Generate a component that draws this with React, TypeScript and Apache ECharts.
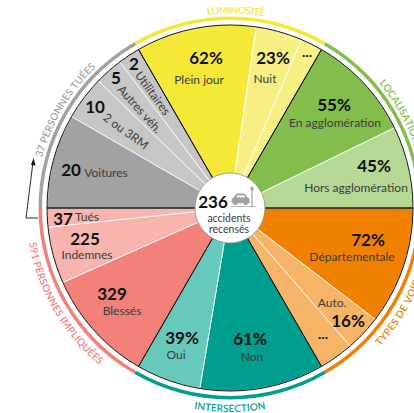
import React, { useEffect, useRef } from "react";
import * as echarts from "echarts";

const sliceNames = ["Plein jour", "Nuit", "Luminosité autre", "En agglomération", "Hors agglomération", "Départementale", "Auto.", "Voie autre", "Non", "Oui", "Blessés", "Indemnes", "Tués", "Voitures", "2 ou 3RM", "Autres véh.", "Utilitaires"];
// angular span of each slice (degrees, clockwise from the grey/yellow boundary)
const sliceSpans = [38.2, 14.8, 7, 34, 26, 37.5, 11.5, 11, 39.5, 20.5, 36, 18, 6, 30, 14, 9, 7];
const sliceColors = ["#F5E836", "#F8F084", "#F8F084", "#83BE4C", "#B5D894", "#F08100", "#F6B468", "#F6B468", "#009E8F", "#67C8BC", "#F28279", "#F8B5AF", "#F8B5AF", "#A2A2A2", "#C6C6C6", "#C6C6C6", "#C6C6C6"];

const groupNames = ["Luminosité", "Localisation", "Types de voie", "Intersection", "Personnes impliquées", "Personnes tuées"];
const groupSpans = [60, 60, 60, 60, 60, 60];
const groupColors = ["#F5E836", "#83BE4C", "#F08100", "#009E8F", "#F28279", "#A2A2A2"];

const CX = 230, CY = 208, R = 183;
const NUM = "bold 17px Lato, sans-serif";
const SUB = "12px Lato, sans-serif";
const RING_FONT = "600 10px Lato, sans-serif";
const DARK = "#111111", SUBC = "#3c3c3c";

const numbers: [string, number, number][] = [
  ["62%", 206, 57], ["23%", 273, 57], ["55%", 334, 104], ["45%", 374, 165], ["72%", 368, 239],
  ["16%", 348, 320], ["61%", 250, 338], ["39%", 182, 337], ["329", 112, 293], ["225", 85, 238],
  ["37", 63, 218], ["20", 71, 169], ["10", 95, 106], ["5", 116, 77], ["2", 134, 63],
];
const subs: [string, number, number][] = [
  ["Plein jour", 199, 79], ["Nuit", 265, 78], ["En agglomération", 335, 122], ["Hors agglomération", 356, 187],
  ["Départementale", 352, 256], ["Auto.", 332, 302], ["Non", 252, 356], ["Oui", 176, 354],
  ["Blessés", 122, 310], ["Indemnes", 87, 254], ["Tués", 87, 216], ["Voitures", 106, 172],
];
const rotated: [string, number, number, number][] = [
  ["2 ou 3RM", 126, 131, -36], ["Autres véh.", 140, 109, -48], ["Utilitaires", 153, 93, -54],
];
const dots: [number, number][] = [[307, 58], [323, 340]];

// text, centre angle (clockwise from top), angular span, colour
const ringLabels: [string, number, number, string][] = [
  ["LUMINOSITÉ", 1.7, 16.7, "#F5E836"],
  ["LOCALISATION", 60.5, 21, "#83BE4C"],
  ["TYPES DE VOIE", 122, 21.5, "#F08100"],
  ["INTERSECTION", 180, 20.3, "#009E8F"],
  ["591 PERSONNES IMPLIQUÉES", 240, 40.5, "#F28279"],
  ["37 PERSONNES TUÉES", 300.7, 31.4, "#A2A2A2"],
];

const CAR = "M1 26 L1 21 Q2 19 4 18 L8 12 Q9 11 11 11 L21 11 Q23 11 25 14 L27 17 Q31 18 31 22 L31 27 L28 27 A3.5 3.5 0 0 1 21 27 L11 27 A3.5 3.5 0 0 1 4 27 L1 27 Z M10 14 L9 17 L24 17 L22 14 Z M34 6 L36 6 L36 32 L34 32 Z M32.5 0 L37.5 0 L37.5 6 L32.5 6 Z M0 32 L41 32 L41 33.4 L0 33.4 Z";

function ringChars(text: string, mid: number, span: number, color: string) {
  const flip = mid > 95 && mid < 265;
  const radius = flip ? 200 : 198.5;
  const ctx = document.createElement("canvas").getContext("2d")!;
  ctx.font = RING_FONT;
  const chars = Array.from(text);
  const base = chars.map((c) => ctx.measureText(c).width);
  const sum = base.reduce((a, b) => a + b, 0);
  const target = (span * Math.PI / 180) * radius;
  const extra = (target - sum) / chars.length;
  let run = -target / 2;
  return chars.map((c, i) => {
    const w = base[i] + extra;
    const off = (run + w / 2) / radius * 180 / Math.PI;
    run += w;
    const a = mid + (flip ? -off : off);
    const rad = (a * Math.PI) / 180;
    const x = CX + radius * Math.sin(rad);
    const y = CY - radius * Math.cos(rad);
    const rot = flip ? (180 - a) : -a;
    return {
      type: "text", x, y, rotation: (rot * Math.PI) / 180,
      style: { text: c, fill: color, font: RING_FONT, align: "center", verticalAlign: "middle" },
    };
  });
}

export default function App() {
  const ref = useRef<HTMLDivElement>(null);
  useEffect(() => {
    echarts.graphic.registerShape("carIcon", echarts.graphic.extendPath(CAR, {}) as any);
    const chart = echarts.init(ref.current!, undefined, { renderer: "svg" });
    const graphics: any[] = [
      { type: "circle", shape: { cx: CX, cy: CY, r: 35 }, style: { fill: "#fff", stroke: "#8c8c8c", lineWidth: 0.8 }, z: 20 },
      { type: "text", x: 213, y: 201, z: 21, style: { text: "236", font: "bold 17px Lato, sans-serif", fill: DARK, align: "center", verticalAlign: "middle" } },
      { type: "carIcon", x: 231, y: 187, scaleX: 0.6, scaleY: 0.6, z: 21, style: { fill: "#A2A2A2" } },
      { type: "text", x: 229, y: 218, z: 21, style: { text: "accidents", font: "10.5px Lato, sans-serif", fill: SUBC, align: "center", verticalAlign: "middle" } },
      { type: "text", x: 229, y: 229, z: 21, style: { text: "recensés", font: "10.5px Lato, sans-serif", fill: SUBC, align: "center", verticalAlign: "middle" } },
      { type: "polyline", z: 3, shape: { points: [[33, 162], [26, 218], [38, 218]] }, style: { stroke: "#111", lineWidth: 0.9, fill: "none" } },
      { type: "polygon", z: 3, shape: { points: [[33.6, 158], [31, 165], [35.5, 165.5]] }, style: { fill: "#111" } },
    ];
    numbers.forEach(([t, x, y]) => graphics.push({ type: "text", x, y, z: 10, style: { text: t, font: NUM, fill: DARK, align: "center", verticalAlign: "middle" } }));
    subs.forEach(([t, x, y]) => graphics.push({ type: "text", x, y, z: 10, style: { text: t, font: SUB, fill: SUBC, align: "center", verticalAlign: "middle" } }));
    rotated.forEach(([t, x, y, r]) => graphics.push({ type: "text", x, y, z: 10, rotation: (r * Math.PI) / 180, style: { text: t, font: SUB, fill: SUBC, align: "center", verticalAlign: "middle" } }));
    dots.forEach(([x, y]) => graphics.push({ type: "text", x, y, z: 10, style: { text: "...", font: "bold 14px Lato, sans-serif", fill: DARK, align: "center", verticalAlign: "bottom" } }));
    ringLabels.forEach(([t, mid, span, color]) => graphics.push(...ringChars(t, mid, span, color)));
    graphics.push({ type: "rect", z: 30, shape: { x: 0, y: 0, width: 414, height: 7 }, style: { fill: "#fff" } });

    chart.setOption({
      animation: false,
      backgroundColor: "#fff",
      series: [
        {
          type: "pie", center: [CX, CY], radius: [0, R], startAngle: 120, clockwise: true, silent: true, z: 1,
          label: { show: false }, labelLine: { show: false }, avoidLabelOverlap: false,
          itemStyle: { borderColor: "#ffffff", borderWidth: 0.8 },
          data: sliceNames.map((name, i) => ({ name, value: sliceSpans[i], itemStyle: { color: sliceColors[i] } })),
        },
        {
          type: "pie", center: [CX, CY], radius: [0, R], startAngle: 120, clockwise: true, silent: true, z: 2,
          label: { show: false }, labelLine: { show: false }, avoidLabelOverlap: false,
          itemStyle: { borderColor: "#111111", borderWidth: 1, color: "rgba(0,0,0,0)" },
          data: groupNames.map((name, i) => ({ name, value: groupSpans[i] })),
        },
        {
          type: "pie", center: [CX, CY], radius: [188, 191.5], startAngle: 120, clockwise: true, silent: true, z: 2,
          label: { show: false }, labelLine: { show: false }, avoidLabelOverlap: false,
          itemStyle: { borderWidth: 0 },
          data: groupNames.map((name, i) => ({ name, value: groupSpans[i], itemStyle: { color: groupColors[i] } })),
        },
      ],
      graphic: { elements: graphics },
    });
    return () => chart.dispose();
  }, []);
  return <div ref={ref} style={{ position: "fixed", left: 0, top: 0, width: 414, height: 413 }} />;
}
